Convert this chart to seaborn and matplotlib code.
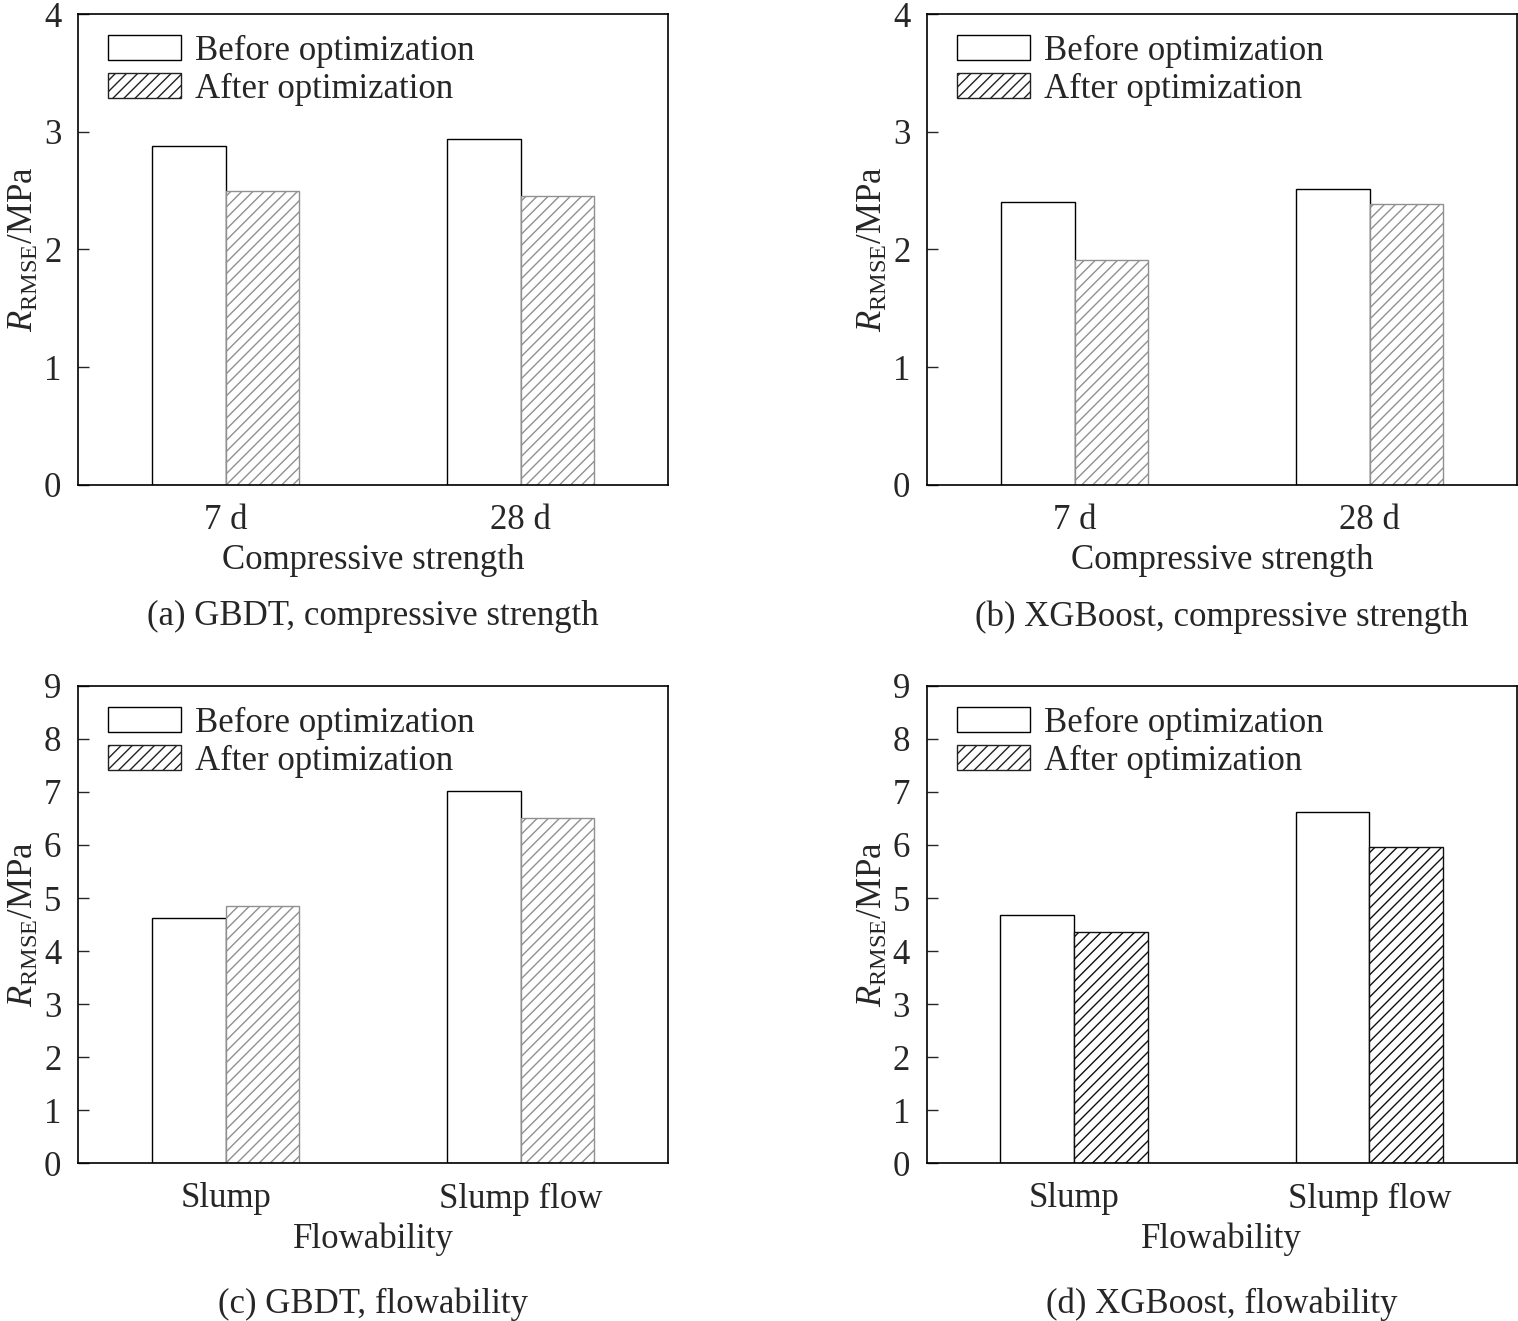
import pandas as pd
import seaborn as sns
import matplotlib.pyplot as plt
import matplotlib.patches as mpatches

# RMSE values
strength_ages = ['7 d', '28 d']
gbdt_strength_before = [2.88, 2.94]
gbdt_strength_after = [2.50, 2.45]
xgb_strength_before = [2.40, 2.51]
xgb_strength_after = [1.91, 2.39]

flow_types = ['Slump', 'Slump flow']
gbdt_flow_before = [4.63, 7.02]
gbdt_flow_after = [4.85, 6.50]
xgb_flow_before = [4.68, 6.63]
xgb_flow_after = [4.36, 5.96]

states = ['Before optimization', 'After optimization']

sns.set_style('ticks')
plt.rcParams['font.family'] = ['Liberation Serif', 'DejaVu Serif']
plt.rcParams['mathtext.fontset'] = 'custom'
plt.rcParams['mathtext.rm'] = 'Liberation Serif'
plt.rcParams['mathtext.it'] = 'Liberation Serif:italic'
plt.rcParams['hatch.linewidth'] = 1.0
FS = 25


def draw_panel(ax, cats, before, after, ymax, xlabel, hatch_col):
    df = pd.DataFrame({
        'cat': cats + cats,
        'val': before + after,
        'state': [states[0]] * len(cats) + [states[1]] * len(cats),
    })
    sns.barplot(data=df, x='cat', y='val', hue='state', hue_order=states,
                palette=['white', 'white'], width=0.5, gap=0,
                errorbar=None, legend=False, linewidth=1.0,
                edgecolor='black', saturation=1, ax=ax)
    for bar in ax.containers[1]:
        bar.set_hatch('///')
        bar.set_edgecolor(hatch_col)
    ax.set_xlim(-0.5, 1.5)
    ax.set_ylim(0, ymax)
    ax.set_yticks(range(0, ymax + 1))
    ax.tick_params(axis='y', direction='in', length=8, width=1.0,
                   labelsize=FS, pad=12)
    ax.tick_params(axis='x', length=0, labelsize=FS, pad=14)
    for s in ax.spines.values():
        s.set_visible(True)
        s.set_color('black')
        s.set_linewidth(1.2)
    ax.set_xlabel(xlabel, fontsize=FS, labelpad=5)
    ax.set_ylabel(r'$R_{\mathrm{RMSE}}$/MPa', fontsize=FS, labelpad=2)
    handles = [
        mpatches.Patch(facecolor='white', edgecolor='black', linewidth=1.0,
                       label=states[0]),
        mpatches.Patch(facecolor='white', edgecolor='#222222', hatch='///',
                       linewidth=1.0, label=states[1]),
    ]
    ax.legend(handles=handles, loc='upper left', bbox_to_anchor=(0.01, 1.008),
              frameon=False, fontsize=FS, handlelength=2.1,
              handleheight=0.72, handletextpad=0.4, labelspacing=0.15,
              borderaxespad=0.3)


fig = plt.figure(figsize=(15.18, 13.21), dpi=100)
ax_a = fig.add_axes([0.0514, 0.6329, 0.3887, 0.3565])
ax_b = fig.add_axes([0.6107, 0.6329, 0.3887, 0.3565])
ax_c = fig.add_axes([0.0514, 0.1196, 0.3887, 0.3611])
ax_d = fig.add_axes([0.6104, 0.1196, 0.3890, 0.3611])

panels = [
    (ax_a, strength_ages, gbdt_strength_before, gbdt_strength_after, 4,
     'Compressive strength', '(a) GBDT, compressive strength', '#909090', 0.533),
    (ax_b, strength_ages, xgb_strength_before, xgb_strength_after, 4,
     'Compressive strength', '(b) XGBoost, compressive strength', '#909090', 0.533),
    (ax_c, flow_types, gbdt_flow_before, gbdt_flow_after, 9,
     'Flowability', '(c) GBDT, flowability', '#909090', 0.0125),
    (ax_d, flow_types, xgb_flow_before, xgb_flow_after, 9,
     'Flowability', '(d) XGBoost, flowability', '#111111', 0.0125),
]

for ax, cats, bef, aft, ymax, xl, cap, hc, ycap in panels:
    draw_panel(ax, cats, bef, aft, ymax, xl, hc)
    pos = ax.get_position()
    fig.text(pos.x0 + pos.width / 2, ycap, cap, ha='center', va='center',
             fontsize=FS)

fig.savefig('out.png', dpi=100, facecolor='white')
